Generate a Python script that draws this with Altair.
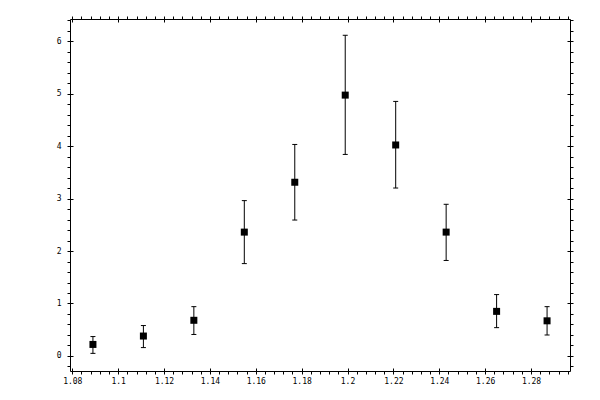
import altair as alt
import pandas as pd

# data
x_vals = [1.089, 1.111, 1.133, 1.155, 1.177, 1.199, 1.221, 1.243, 1.265, 1.287]
y_vals = [0.22, 0.38, 0.68, 2.36, 3.31, 4.97, 4.02, 2.36, 0.85, 0.67]
y_hi = [0.37, 0.58, 0.94, 2.96, 4.03, 6.11, 4.85, 2.89, 1.17, 0.94]
y_lo = [0.05, 0.16, 0.41, 1.76, 2.59, 3.84, 3.20, 1.82, 0.54, 0.40]

# tick positions
x_major = [1.08, 1.10, 1.12, 1.14, 1.16, 1.18, 1.20, 1.22, 1.24, 1.26, 1.28]
y_major = [0, 1, 2, 3, 4, 5, 6]
x_minor = [round(1.08 + 0.004 * i, 3) for i in range(55)]
y_minor = [round(-0.2 + 0.2 * i, 1) for i in range(34)]

X_DOMAIN = [1.079, 1.297]
Y_DOMAIN = [-0.286, 6.42]

df = pd.DataFrame({"x": x_vals, "y": y_vals, "hi": y_hi, "lo": y_lo})

xs = alt.Scale(domain=X_DOMAIN, nice=False, zero=False)
ys = alt.Scale(domain=Y_DOMAIN, nice=False, zero=False)

base = dict(grid=False, title=None, domainColor="black", tickColor="black",
            labelColor="black", labelFont="DejaVu Sans Mono", labelFontSize=8,
            tickWidth=1, domainWidth=1, labelOverlap=False, labelFlush=False,
            labelBound=False)

x_bottom_main = alt.Axis(orient="bottom", values=x_minor, tickSize=3, format="~g",
                         labelExpr="abs(datum.value*50 - round(datum.value*50)) < 0.000001 ? datum.label : ''",
                         labelPadding=3, **base)
x_bottom_in = alt.Axis(orient="bottom", values=x_major, tickSize=3, offset=-3,
                       domain=False, labels=False, **base)
x_top_main = alt.Axis(orient="top", values=x_minor, tickSize=3, labels=False, **base)
x_top_in = alt.Axis(orient="top", values=x_major, tickSize=3, offset=-3,
                    domain=False, labels=False, **base)

y_left_main = alt.Axis(orient="left", values=y_minor, tickSize=3, format="~g",
                       labelExpr="abs(datum.value - round(datum.value)) < 0.000001 ? datum.label : ''",
                       labelPadding=6, **base)
y_left_in = alt.Axis(orient="left", values=y_major, tickSize=3, offset=-3,
                     domain=False, labels=False, **base)
y_right_main = alt.Axis(orient="right", values=y_minor, tickSize=3, labels=False, **base)
y_right_in = alt.Axis(orient="right", values=y_major, tickSize=3, offset=-3,
                      domain=False, labels=False, **base)

bars = alt.Chart(df).mark_rule(color="black", strokeWidth=1).encode(
    x=alt.X("x:Q", scale=xs, axis=x_bottom_main),
    y=alt.Y("lo:Q", scale=ys, axis=y_left_main),
    y2="hi:Q",
)

caps_hi = alt.Chart(df).mark_tick(color="black", orient="horizontal", size=5,
                                  thickness=1, opacity=1).encode(
    x=alt.X("x:Q", scale=xs, axis=x_top_main),
    y=alt.Y("hi:Q", scale=ys, axis=y_right_main),
)

caps_lo = alt.Chart(df).mark_tick(color="black", orient="horizontal", size=5,
                                  thickness=1, opacity=1).encode(
    x=alt.X("x:Q", scale=xs, axis=x_bottom_in),
    y=alt.Y("lo:Q", scale=ys, axis=y_left_in),
)

points = alt.Chart(df).mark_square(color="black", size=49, opacity=1, filled=True).encode(
    x=alt.X("x:Q", scale=xs, axis=x_top_in),
    y=alt.Y("y:Q", scale=ys, axis=y_right_in),
)

chart = alt.layer(bars, caps_hi, caps_lo, points).resolve_axis(
    x="independent", y="independent"
).properties(
    width=500, height=352,
    autosize=alt.AutoSizeParams(type="none"),
    padding={"left": 62, "top": 11, "right": 20, "bottom": 20},
    background="white",
).configure_view(strokeWidth=0)

chart.save("out.html", embed_options={"renderer": "svg", "actions": False})
